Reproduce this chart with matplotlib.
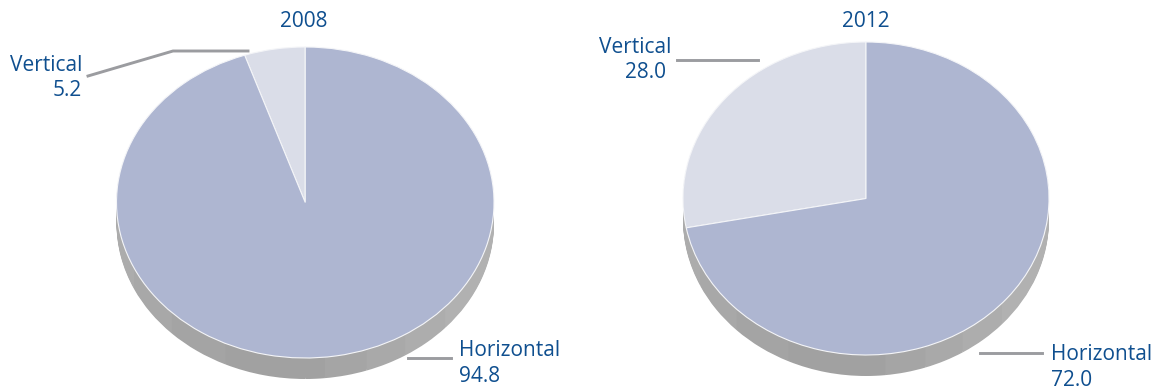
import matplotlib
matplotlib.use('Agg')
import matplotlib.pyplot as plt

W, H = 1160, 389

# Share of each type, percent
years = ['2008', '2012']
vertical = [5.2, 28.0]
horizontal = [94.8, 72.0]
labels = ['Vertical', 'Horizontal']

col_vert = '#dadde8'
col_horz = '#aeb6d1'
col_text = '#0f4f8f'
col_line = '#9b9ca0'

# Shading bands of the pie side, counter clockwise from the left edge (degrees)
wall_widths = [25, 20, 20, 25, 6, 13, 13, 16, 42, 180]
wall_cols = ['#acacac', '#a8a8a8', '#a4a4a4', '#a1a1a1', '#a1a1a1', '#a5a5a5',
             '#a9a9a9', '#adadad', '#b1b1b1', '#b1b1b1']

plt.rcParams['font.family'] = ['Open Sans', 'DejaVu Sans']

fig = plt.figure(figsize=(W / 100, H / 100), dpi=100)
fig.patch.set_facecolor('white')

##################################Pies##########################################

def draw_pie(left, right, top, bottom, depth, vals):
    pad = 4
    rx = (right - left) / 2
    ry = (bottom - top) / 2
    ax = fig.add_axes([(left - pad) / W, 1 - (bottom + depth + pad) / H,
                       (right - left + 2 * pad) / W,
                       (bottom - top + depth + 2 * pad) / H])
    # side of the pie, stacked 1px layers
    for i in range(depth, 0, -1):
        ax.pie(wall_widths, colors=wall_cols, startangle=180, counterclock=True,
               center=(0, -i / ry), radius=1, wedgeprops={'linewidth': 0})
    ax.pie(vals, colors=[col_vert, col_horz], startangle=90, counterclock=True,
           center=(0, 0), radius=1,
           wedgeprops={'linewidth': 0.8, 'edgecolor': '#f4f5f8'})
    ax.set_aspect('auto')
    ax.set_xlim(-1 - pad / rx, 1 + pad / rx)
    ax.set_ylim(-1 - (depth + pad) / ry, 1 + pad / ry)
    ax.axis('off')

draw_pie(116.5, 494, 47, 358, 21, [vertical[0], horizontal[0]])
draw_pie(683, 1049, 42, 355, 21, [vertical[1], horizontal[1]])

##################################Annotation####################################

ov = fig.add_axes([0, 0, 1, 1], facecolor='none')
ov.set_xlim(0, W)
ov.set_ylim(H, 0)
ov.axis('off')

lw = 2.1
ov.plot([88, 173, 248], [76, 51, 51], color=col_line, lw=lw, solid_joinstyle='miter')
ov.plot([408, 451], [358, 358], color=col_line, lw=lw)
ov.plot([677, 758], [60, 60], color=col_line, lw=lw)
ov.plot([980, 1042], [353, 353], color=col_line, lw=lw)

fs = 15

def txt(x, y, s, ha='left'):
    ov.text(x, y, s, ha=ha, va='center', fontsize=fs, color=col_text)

txt(304, 21, years[0], 'center')
txt(866, 21, years[1], 'center')
txt(82, 65, labels[0], 'right')
txt(82, 90, f'{vertical[0]:.1f}', 'right')
txt(671, 47, labels[0], 'right')
txt(666, 72, f'{vertical[1]:.1f}', 'right')
txt(459, 351, labels[1])
txt(459, 376, f'{horizontal[0]:.1f}')
txt(1051, 355, labels[1])
txt(1051, 380, f'{horizontal[1]:.1f}')

fig.savefig('out.png', dpi=100)
